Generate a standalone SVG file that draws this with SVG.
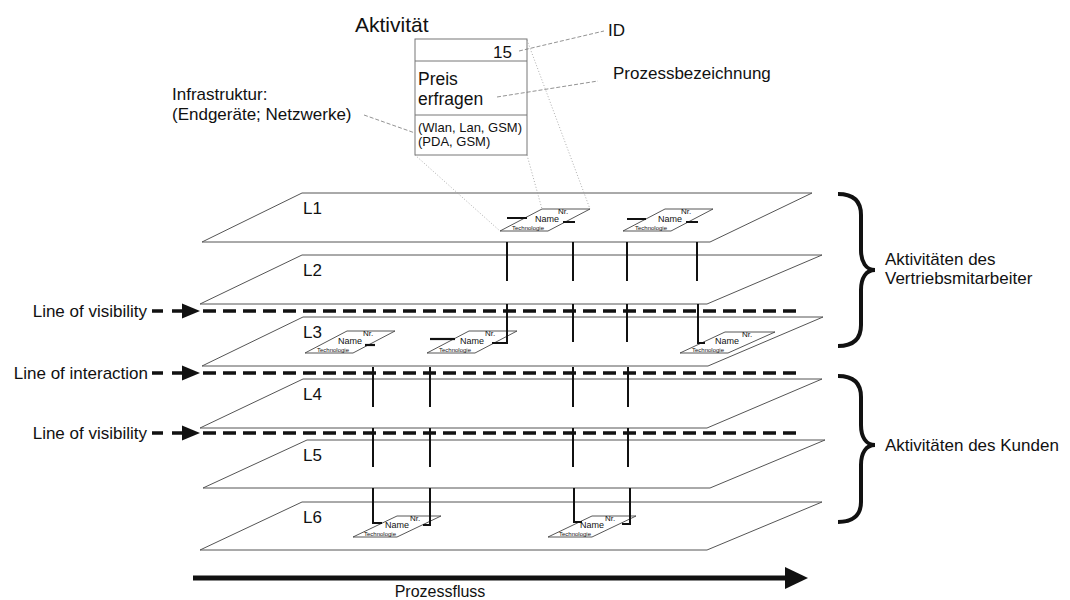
<svg xmlns="http://www.w3.org/2000/svg" width="1070" height="600" viewBox="0 0 1070 600">
<style>
text{font-family:"Liberation Sans",Arial,sans-serif;fill:#111}
.plane{fill:none;stroke:#555;stroke-width:1}
.lbl{font-size:17px}
.act{fill:#fff;stroke:#444;stroke-width:0.9}
.nm{font-size:9px}
.nr{font-size:8px}
.tech{font-size:6px}
.hd{stroke:#111;stroke-width:2.2;fill:none}
.con{stroke:#111;stroke-width:2;fill:none}
.los{stroke:#111;stroke-width:3.5;stroke-dasharray:13 7;fill:none}
.lead{stroke:#777;stroke-width:0.8;stroke-dasharray:4 2;fill:none}
.dot{stroke:#999;stroke-width:0.8;stroke-dasharray:1 2;fill:none}
.brace{stroke:#111;stroke-width:4;fill:none}
</style>
<rect width="1070" height="600" fill="#fff"/>

<g id="planes">
<g id="L1"><path class="plane" d="M302,193 L812,193 L710,242 L202,242 Z"/><text class="lbl" x="303" y="214">L1</text></g>
<g id="L2"><path class="plane" d="M302,255 L822,255 L707,304 L200,304 Z"/><text class="lbl" x="303" y="276">L2</text></g>
<g id="L3"><path class="plane" d="M303,317 L823,317 L708,366 L202,366 Z"/><text class="lbl" x="303" y="338">L3</text></g>
<g id="L4"><path class="plane" d="M303,379 L822,379 L707,428 L200,428 Z"/><text class="lbl" x="303" y="400">L4</text></g>
<g id="L5"><path class="plane" d="M307,440 L825,440 L710,488 L203,488 Z"/><text class="lbl" x="303" y="461">L5</text></g>
<g id="L6"><path class="plane" d="M302,502 L822,502 L707,550 L200,550 Z"/><text class="lbl" x="303" y="523">L6</text></g>
</g>

<g id="aktivitaet-box">
<text x="355" y="32" style="font-size:21px">Aktivität</text>
<rect x="415" y="39" width="112" height="116" fill="#fff" stroke="#777" stroke-width="1"/>
<line x1="415" y1="61" x2="527" y2="61" stroke="#777"/>
<line x1="415" y1="115" x2="527" y2="115" stroke="#777"/>
<text x="512" y="58" text-anchor="end" style="font-size:17px">15</text>
<text x="418" y="85" style="font-size:17.5px">Preis</text>
<text x="418" y="105" style="font-size:17.5px">erfragen</text>
<text x="418" y="132" style="font-size:13px">(Wlan, Lan, GSM)</text>
<text x="418" y="146" style="font-size:13px">(PDA, GSM)</text>
</g>

<g id="annotations">
<text x="172" y="100" style="font-size:17px">Infrastruktur:</text>
<text x="172" y="120" style="font-size:17px">(Endgeräte; Netzwerke)</text>
<text x="608" y="36" style="font-size:17px">ID</text>
<text x="613" y="79" style="font-size:17px">Prozessbezeichnung</text>
<path class="lead" d="M519,51 L604,31"/>
<path class="lead" d="M497,97 L598,81"/>
<path class="lead" d="M364,115 L415,133"/>
<path class="dot" d="M415,155 L500,231"/>
<path class="dot" d="M527,155 L542,209"/>
<path class="dot" d="M527,40 L590,209"/>
</g>

<g id="act-L1a" transform="translate(500,231)">
<path class="act" d="M0,0 L42,-22 L90,-22 L48,0 Z"/>
<text class="nm" x="35" y="-9">Name</text><text class="nr" x="58" y="-17">Nr.</text><text class="tech" x="12" y="-1">Technologie</text>
<path class="hd" d="M7,-13 H27 M63,-9 H75"/>
</g>
<g id="act-L1b" transform="translate(623,231)">
<path class="act" d="M0,0 L42,-22 L90,-22 L48,0 Z"/>
<text class="nm" x="35" y="-9">Name</text><text class="nr" x="58" y="-17">Nr.</text><text class="tech" x="12" y="-1">Technologie</text>
<path class="hd" d="M4,-12 H23 M63,-9 H75"/>
</g>
<g id="act-L3a" transform="translate(305,353)">
<path class="act" d="M0,0 L42,-22 L90,-22 L48,0 Z"/>
<text class="nm" x="33" y="-9">Name</text><text class="nr" x="58" y="-17">Nr.</text><text class="tech" x="12" y="-1">Technologie</text>
<path class="hd" d="M60,-8 H70"/>
</g>
<g id="act-L3b" transform="translate(427,353)">
<path class="act" d="M0,0 L42,-22 L90,-22 L48,0 Z"/>
<text class="nm" x="33" y="-9">Name</text><text class="nr" x="58" y="-17">Nr.</text><text class="tech" x="12" y="-1">Technologie</text>
<path class="hd" d="M3,-14 H28"/>
</g>
<g id="act-L3c" transform="translate(680,353)">
<path class="act" d="M0,0 L45,-21 L95,-21 L48,0 Z"/>
<text class="nm" x="35" y="-9">Name</text><text class="nr" x="62" y="-16">Nr.</text><text class="tech" x="12" y="-1">Technologie</text>
</g>
<g id="act-L6a" transform="translate(353,537)">
<path class="act" d="M0,0 L44,-21 L88,-21 L44,0 Z"/>
<text class="nm" x="32" y="-9">Name</text><text class="nr" x="57" y="-16">Nr.</text><text class="tech" x="11" y="-1">Technologie</text>
</g>
<g id="act-L6b" transform="translate(548,537)">
<path class="act" d="M0,0 L44,-21 L88,-21 L44,0 Z"/>
<text class="nm" x="32" y="-9">Name</text><text class="nr" x="57" y="-16">Nr.</text><text class="tech" x="11" y="-1">Technologie</text>
</g>

<g id="connectors">
<path class="con" d="M507,242 V281 M573,242 V281 M627,242 V281 M697,242 V281"/>
<path class="con" d="M507,304 V343 H492 M573,304 V342 M627,304 V342 M698,304 V343 H705"/>
<path class="con" d="M373,367 V407 M430,367 V407 M573,367 V407 M628,367 V407"/>
<path class="con" d="M373,428 V467 M430,428 V467 M573,428 V467 M628,428 V467"/>
<path class="con" d="M373,488 V523 H382 M430,488 V525 H423 M574,488 V522 H582 M630,488 V524 H622"/>
</g>

<g id="lines">
<g id="line-visibility-1">
<text class="lbl" x="147" y="317" text-anchor="end">Line of visibility</text>
<path class="los" d="M152,311 H182" style="stroke-dasharray:11 9"/>
<polygon points="182,303.5 200,311 182,318.5" fill="#111"/>
<path class="los" d="M203,311 H800"/>
</g>
<g id="line-interaction">
<text class="lbl" x="148" y="379" text-anchor="end">Line of interaction</text>
<path class="los" d="M152,373 H182" style="stroke-dasharray:11 9"/>
<polygon points="182,365.5 200,373 182,380.5" fill="#111"/>
<path class="los" d="M203,373 H800"/>
</g>
<g id="line-visibility-2">
<text class="lbl" x="147" y="439" text-anchor="end">Line of visibility</text>
<path class="los" d="M152,433 H182" style="stroke-dasharray:11 9"/>
<polygon points="182,425.5 200,433 182,440.5" fill="#111"/>
<path class="los" d="M203,433 H800"/>
</g>
</g>

<g id="brace-vertrieb">
<path class="brace" d="M838,194 C852,194 861,200 861,215 L861,250 C861,262 866,270 875,270 C866,270 861,278 861,290 L861,325 C861,340 852,346 838,346"/>
<text class="lbl" x="885" y="265">Aktivitäten des</text>
<text class="lbl" x="885" y="284">Vertriebsmitarbeiter</text>
</g>
<g id="brace-kunden">
<path class="brace" d="M838,376 C852,376 861,382 861,397 L861,425 C861,437 866,445 875,445 C866,445 861,453 861,465 L861,502 C861,516 852,522 838,522"/>
<text class="lbl" x="885" y="451">Aktivitäten des Kunden</text>
</g>

<g id="prozessfluss">
<line x1="193" y1="578" x2="788" y2="578" stroke="#111" stroke-width="5"/>
<polygon points="785,567 808,578 785,589" fill="#111"/>
<text x="440" y="597" text-anchor="middle" style="font-size:16px">Prozessfluss</text>
</g>
</svg>
